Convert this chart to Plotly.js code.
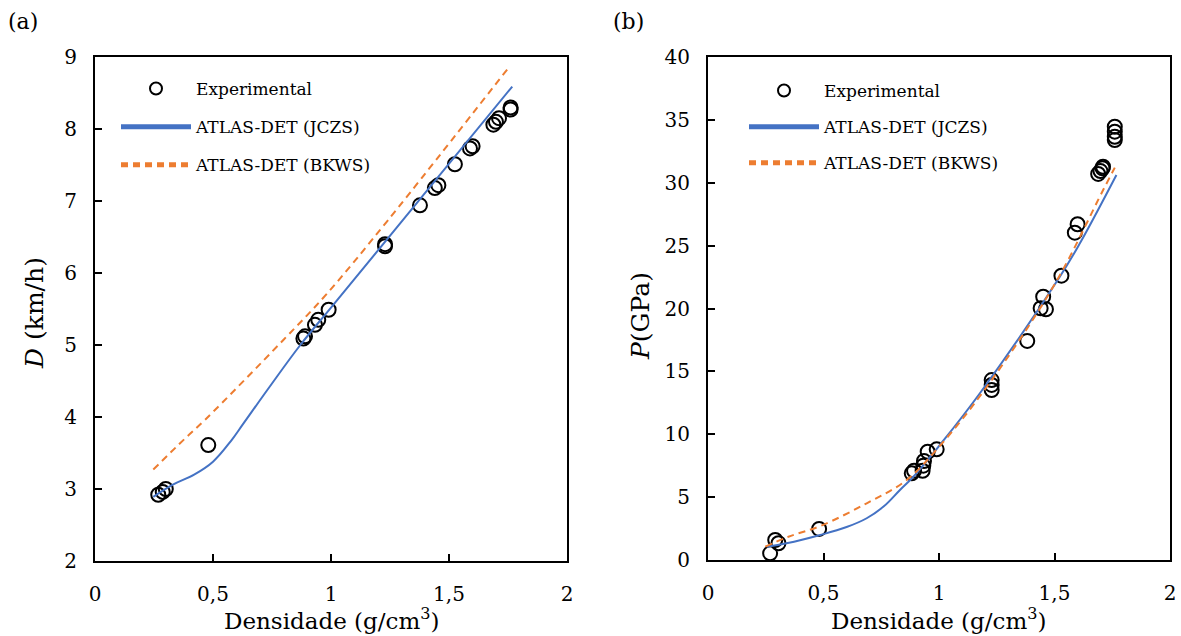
<!DOCTYPE html>
<html>
<head>
<meta charset="utf-8">
<script src="https://cdn.plot.ly/plotly-3.0.1.min.js"></script>
<style>
  html, body { margin: 0; padding: 0; background: #fff; }
  #chart { width: 1181px; height: 636px; }
</style>
</head>
<body>
<div id="chart"></div>
<script>
// (a) detonation velocity vs. loading density
const densExpA = [0.268, 0.287, 0.300, 0.480, 0.883, 0.890, 0.932, 0.946, 0.990, 1.229, 1.229,
                  1.377, 1.440, 1.455, 1.525, 1.589, 1.600, 1.688, 1.699, 1.712, 1.761, 1.761];
const velExpA  = [2.92, 2.96, 3.00, 3.61, 5.09, 5.12, 5.28, 5.35, 5.49, 6.37, 6.40,
                  6.94, 7.18, 7.22, 7.51, 7.73, 7.76, 8.06, 8.10, 8.15, 8.27, 8.30];

const densJczsA = [0.247, 0.330, 0.420, 0.500, 0.579, 0.627, 0.740, 0.870, 1.000, 1.306, 1.768];
const velJczsA  = [2.89, 3.06, 3.20, 3.38, 3.68, 3.90, 4.42, 5.00, 5.52, 6.74, 8.59];

const densBkwsA = [0.247, 0.381, 0.466, 0.798, 0.982, 1.243, 1.758];
const velBkwsA  = [3.27, 3.70, 3.96, 5.07, 5.71, 6.74, 8.875];

// (b) detonation pressure vs. loading density
const densExpB = [0.269, 0.291, 0.305, 0.481, 0.882, 0.892, 0.929, 0.932, 0.935, 0.951, 0.990,
                  1.228, 1.228, 1.228, 1.382, 1.440, 1.451, 1.463, 1.530, 1.588, 1.600,
                  1.689, 1.699, 1.708, 1.710, 1.761, 1.761, 1.761, 1.761];
const presExpB = [0.53, 1.59, 1.33, 2.47, 6.89, 7.10, 7.10, 7.50, 7.87, 8.61, 8.80,
                  14.31, 13.92, 13.52, 17.42, 20.02, 20.94, 19.94, 22.61, 26.03, 26.70,
                  30.70, 30.93, 31.15, 31.28, 34.46, 34.06, 33.66, 33.40];

const densJczsB = [0.255, 0.340, 0.486, 0.600, 0.687, 0.760, 0.831, 0.889, 1.004, 1.177, 1.523, 1.610, 1.768];
const presJczsB = [1.06, 1.33, 1.99, 2.62, 3.32, 4.25, 5.57, 6.62, 9.15, 13.26, 22.53, 25.19, 30.62];

const densBkwsB = [0.248, 0.348, 0.486, 0.687, 0.860, 1.000, 1.200, 1.500, 1.710, 1.761];
const presBkwsB = [1.06, 1.85, 2.70, 4.51, 6.36, 9.00, 13.60, 21.90, 29.40, 31.20];

// axis ticks
const xTickVals = [0, 0.5, 1, 1.5, 2];
const xTickText = ['0', '0,5', '1', '1,5', '2'];
const yTickValsA = [2, 3, 4, 5, 6, 7, 8, 9];
const yTickValsB = [0, 5, 10, 15, 20, 25, 30, 35, 40];

const seriesNames = ['Experimental', 'ATLAS-DET (JCZS)', 'ATLAS-DET (BKWS)'];

const FONT = 'DejaVu Serif, serif';
const BLUE = '#4472C4';
const ORANGE = '#ED7D31';

const markerStyle = { symbol: 'circle-open', size: 14, color: '#000', line: { width: 2, color: '#000' } };
const jczsLine = { color: BLUE, width: 2, shape: 'spline', smoothing: 1.1 };
const bkwsLine = { color: ORANGE, width: 2, dash: '7px,5px', shape: 'spline', smoothing: 1.0 };

const traces = [
  { x: densExpA, y: velExpA, name: seriesNames[0], mode: 'markers', marker: markerStyle,
    xaxis: 'x', yaxis: 'y', legend: 'legend', legendgroup: 'a1' },
  { x: densJczsA, y: velJczsA, name: seriesNames[1], mode: 'lines', line: jczsLine,
    xaxis: 'x', yaxis: 'y', legend: 'legend', legendgroup: 'a2' },
  { x: densBkwsA, y: velBkwsA, name: seriesNames[2], mode: 'lines', line: bkwsLine,
    xaxis: 'x', yaxis: 'y', legend: 'legend', legendgroup: 'a3' },
  { x: densExpB, y: presExpB, name: seriesNames[0], mode: 'markers', marker: markerStyle,
    xaxis: 'x2', yaxis: 'y2', legend: 'legend2', legendgroup: 'b1' },
  { x: densJczsB, y: presJczsB, name: seriesNames[1], mode: 'lines', line: jczsLine,
    xaxis: 'x2', yaxis: 'y2', legend: 'legend2', legendgroup: 'b2' },
  { x: densBkwsB, y: presBkwsB, name: seriesNames[2], mode: 'lines', line: bkwsLine,
    xaxis: 'x2', yaxis: 'y2', legend: 'legend2', legendgroup: 'b3' }
];

const W = 1181, H = 636;
const px = v => v / W;
const py = v => 1 - v / H;

function xAxis(domain, anchor) {
  return {
    domain: domain, anchor: anchor, range: [0, 2],
    tickmode: 'array', tickvals: xTickVals, ticktext: xTickText,
    ticks: 'inside', ticklen: 7, tickwidth: 2, tickcolor: '#000',
    showline: true, linecolor: '#000', linewidth: 2, mirror: true,
    showgrid: false, zeroline: false, ticklabelstandoff: 14,
    tickfont: { family: FONT, size: 20, color: '#000' }
  };
}
function yAxis(domain, anchor, range, vals) {
  return {
    domain: domain, anchor: anchor, range: range,
    tickmode: 'array', tickvals: vals,
    ticks: 'inside', ticklen: 7, tickwidth: 2, tickcolor: '#000',
    showline: true, linecolor: '#000', linewidth: 2, mirror: true,
    showgrid: false, zeroline: false, ticklabelstandoff: 12,
    tickfont: { family: FONT, size: 20, color: '#000' }
  };
}
function legendBox(xPix, yPix, gap) {
  return {
    x: px(xPix), y: py(yPix), xanchor: 'left', yanchor: 'top',
    bgcolor: 'rgba(0,0,0,0)', borderwidth: 0,
    traceorder: 'grouped', tracegroupgap: gap, itemsizing: 'constant',
    itemwidth: 70,
    font: { family: FONT, size: 17, color: '#000' }
  };
}
function label(text, xPix, yPix, size, angle) {
  return {
    text: text, x: px(xPix), y: py(yPix), xref: 'paper', yref: 'paper',
    xanchor: 'center', yanchor: 'middle', showarrow: false, textangle: angle || 0,
    font: { family: FONT, size: size, color: '#000' }
  };
}

const layout = {
  width: W, height: H,
  margin: { l: 0, r: 0, t: 0, b: 0 },
  paper_bgcolor: '#fff', plot_bgcolor: '#fff',
  font: { family: FONT, color: '#000' },
  showlegend: true,
  xaxis: xAxis([px(95), px(567)], 'y'),
  yaxis: yAxis([py(561), py(57)], 'x', [2, 9], yTickValsA),
  xaxis2: xAxis([px(708), px(1170)], 'y2'),
  yaxis2: yAxis([py(560), py(57)], 'x2', [0, 40], yTickValsB),
  legend: legendBox(116, 71, 13),
  legend2: legendBox(744, 73, 11),
  annotations: [
    label('(a)', 23, 21, 22),
    label('(b)', 628, 21, 22),
    label('Densidade (g/cm<sup>3</sup>)', 331, 619, 23),
    label('Densidade (g/cm<sup>3</sup>)', 938, 619, 23),
    label('<i>D</i> (km/h)', 34, 313, 25, -90),
    label('<i>P</i>(GPa)', 640, 316, 25, -90)
  ]
};

Plotly.newPlot('chart', traces, layout, { staticPlot: true, displayModeBar: false });
</script>
</body>
</html>
